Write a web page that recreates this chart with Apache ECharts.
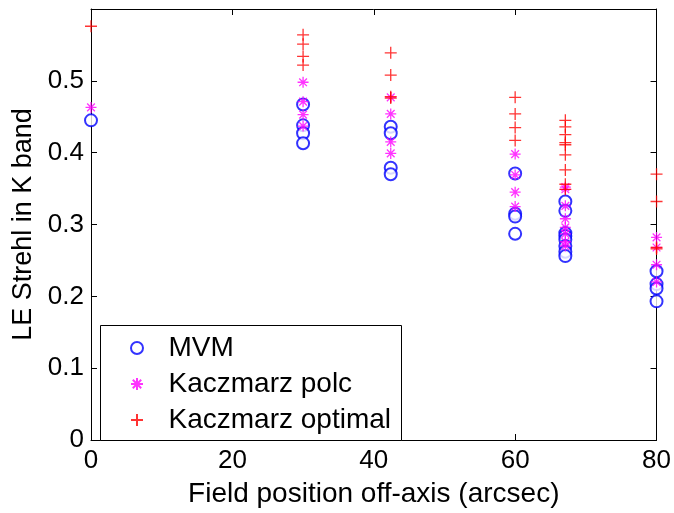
<!DOCTYPE html>
<html>
<head>
<meta charset="utf-8">
<title>LE Strehl vs field position</title>
<script src="https://cdn.jsdelivr.net/npm/echarts@6/dist/echarts.min.js"></script>
<style>
  html, body { margin: 0; padding: 0; background: #fff; }
  #chart { width: 674px; height: 513px; }
</style>
</head>
<body>
<div id="chart"></div>
<script>
// field positions (arcsec) of the star groups
const positions = [0, 30, 42.4, 60, 67.1, 80]

// Strehl values per position
const mvm = [
    [0.445],
    [0.467, 0.438, 0.427, 0.413],
    [0.436, 0.427, 0.379, 0.370],
    [0.371, 0.315, 0.311, 0.287],
    [0.332, 0.319, 0.288, 0.284, 0.279, 0.270, 0.262, 0.256],
    [0.235, 0.217, 0.211, 0.193]
]
const polc = [
    [0.463],
    [0.498, 0.471, 0.453, 0.437],
    [0.477, 0.454, 0.415, 0.399],
    [0.398, 0.369, 0.345, 0.325],
    [0.352, 0.349, 0.326, 0.308, 0.296, 0.287, 0.276, 0.270],
    [0.282, 0.268, 0.244, 0.220]
]
const optimal = [
    [0.576],
    [0.564, 0.551, 0.534, 0.522],
    [0.539, 0.508, 0.478, 0.476],
    [0.477, 0.454, 0.435, 0.417],
    [0.445, 0.436, 0.425, 0.414, 0.411, 0.397, 0.376, 0.356, 0.349],
    [0.370, 0.332, 0.268, 0.266]
]

const xTicks = { min: 0, max: 80, interval: 20 }
const yTicks = { min: 0, max: 0.6, interval: 0.1 }

const seriesNames = ['MVM', 'Kaczmarz polc', 'Kaczmarz optimal']

function toPoints (groups) {
    const out = []
    groups.forEach(function (vals, i) {
        vals.forEach(function (v) { out.push([positions[i], v]) })
    })
    return out
}

const FONT = 'Liberation Sans, Arial, sans-serif'
const PLUS = 'path://M0,-1L0,1M-1,0L1,0'
const STAR = 'path://M0,-1L0,1M-1,0L1,0M-0.7,-0.7L0.7,0.7M-0.7,0.7L0.7,-0.7'

const chart = echarts.init(document.getElementById('chart'))

const hiddenAxis = function (pos, range) {
    return Object.assign({
        type: 'value',
        position: pos,
        axisLine: { show: true, onZero: false, lineStyle: { color: '#000', width: 1 } },
        axisTick: { inside: true, length: 6, lineStyle: { color: '#000' } },
        axisLabel: { show: false },
        splitLine: { show: false }
    }, range)
}

chart.setOption({
    backgroundColor: '#fff',
    animation: false,
    grid: { left: 91, right: 16, top: 9, bottom: 66 },
    graphic: [
        {
            type: 'rect',
            z: 3,
            shape: { x: 100.5, y: 325.5, width: 301, height: 115 },
            style: { fill: '#fff', stroke: '#000', lineWidth: 1 }
        }
    ],
    legend: {
        orient: 'vertical',
        left: 130,
        top: 334,
        padding: 0,
        itemWidth: 53,
        itemHeight: 12,
        itemGap: 8,
        selectedMode: false,
        data: seriesNames,
        textStyle: { fontFamily: FONT, fontSize: 28, color: '#000' }
    },
    xAxis: [
        Object.assign({
            type: 'value',
            position: 'bottom',
            name: 'Field position off-axis (arcsec)',
            nameLocation: 'middle',
            nameGap: 40,
            nameTextStyle: { fontFamily: FONT, fontSize: 28, color: '#000' },
            axisLine: { show: true, onZero: false, lineStyle: { color: '#000', width: 1 } },
            axisTick: { inside: true, length: 6, lineStyle: { color: '#000' } },
            axisLabel: { margin: 8, fontFamily: FONT, fontSize: 26, color: '#000' },
            splitLine: { show: false }
        }, xTicks),
        hiddenAxis('top', xTicks)
    ],
    yAxis: [
        Object.assign({
            type: 'value',
            position: 'left',
            name: 'LE Strehl in K band',
            nameLocation: 'middle',
            nameGap: 54,
            nameTextStyle: { fontFamily: FONT, fontSize: 27, color: '#000' },
            axisLine: { show: true, onZero: false, lineStyle: { color: '#000', width: 1 } },
            axisTick: { inside: true, length: 6, lineStyle: { color: '#000' } },
            axisLabel: { margin: 7, fontFamily: FONT, fontSize: 26, color: '#000', showMaxLabel: false },
            splitLine: { show: false }
        }, yTicks),
        hiddenAxis('right', yTicks)
    ],
    series: [
        {
            name: seriesNames[0],
            type: 'scatter',
            symbol: 'emptyCircle',
            symbolSize: 12,
            itemStyle: { color: '#0000ff', borderColor: '#0000ff', borderWidth: 1.2 },
            emphasis: { disabled: true },
            data: toPoints(mvm)
        },
        {
            name: seriesNames[1],
            type: 'scatter',
            symbol: STAR,
            symbolSize: 11,
            itemStyle: { color: '#ff00ff', borderColor: '#ff00ff', borderWidth: 1.3 },
            emphasis: { disabled: true },
            data: toPoints(polc)
        },
        {
            name: seriesNames[2],
            type: 'scatter',
            symbol: PLUS,
            symbolSize: 12,
            itemStyle: { color: '#ff0000', borderColor: '#ff0000', borderWidth: 1.3 },
            emphasis: { disabled: true },
            data: toPoints(optimal)
        }
    ]
})
</script>
</body>
</html>
